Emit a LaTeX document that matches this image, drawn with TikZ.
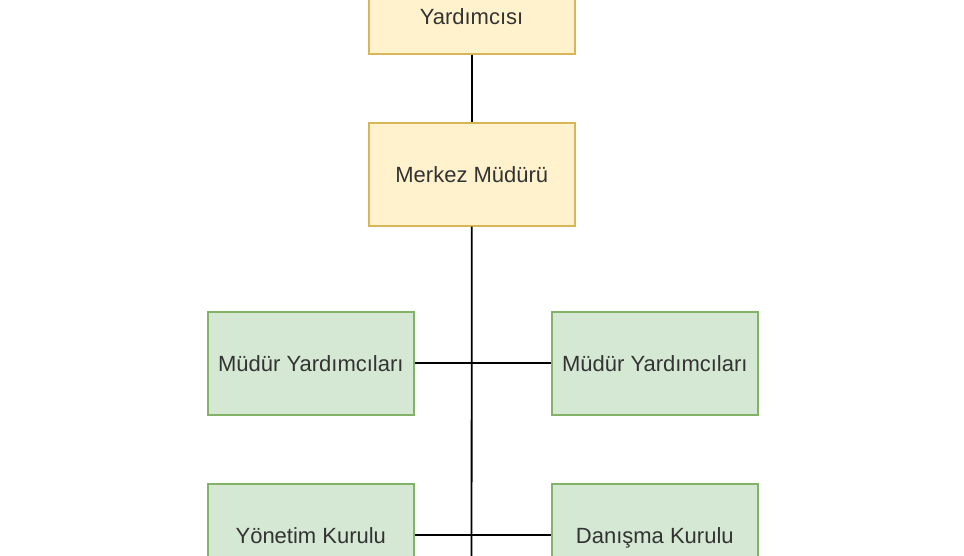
\documentclass[tikz,border=0pt]{standalone}
\usepackage{fontspec}
\setmainfont{Liberation Sans}
\begin{document}
\begin{tikzpicture}[x=1pt,y=-1pt,
  ybox/.style={draw=ystroke,fill=yfill,line width=1.6pt,minimum width=206pt,minimum height=103pt,inner sep=0pt,anchor=north west},
  gbox/.style={draw=gstroke,fill=gfill,line width=1.6pt,minimum width=206pt,minimum height=103pt,inner sep=0pt,anchor=north west},
  lbl/.style={text=txt,font=\fontsize{22}{26}\selectfont,inner sep=0pt,text height=16pt,text depth=0pt},
  conn/.style={draw=black,line width=1.8pt}]
\definecolor{yfill}{HTML}{FFF2CC}
\definecolor{ystroke}{HTML}{D6B656}
\definecolor{gfill}{HTML}{D5E8D4}
\definecolor{gstroke}{HTML}{82B366}
\definecolor{txt}{HTML}{333333}
\useasboundingbox (0,0) rectangle (964,556);
\clip (0,0) rectangle (964,556);
\fill[white] (0,0) rectangle (964,556);
% boxes
\node[ybox] (top) at (368,-50) {};
\node[lbl] at (471.5,17) {Yardımcısı};
\node[ybox] (mm) at (368,122) {};
\node[lbl] at (mm.center) {Merkez Müdürü};
\node[gbox] (my1) at (207,311) {};
\node[lbl] at (my1.center) {Müdür Yardımcıları};
\node[gbox] (my2) at (551,311) {};
\node[lbl] at (my2.center) {Müdür Yardımcıları};
\node[gbox] (yk) at (207,483) {};
\node[lbl] at (yk.center) {Yönetim Kurulu};
\node[gbox] (dk) at (551,483) {};
\node[lbl] at (dk.center) {Danışma Kurulu};
\coordinate (bot) at (471.5,600);
% connectors
\draw[conn] (top.south) -- (mm.north);
\draw[conn] (mm.south) -- (bot);
\draw[conn] (my1.east) -- (my2.west);
\draw[conn] (yk.east) -- (dk.west);
\end{tikzpicture}
\end{document}
